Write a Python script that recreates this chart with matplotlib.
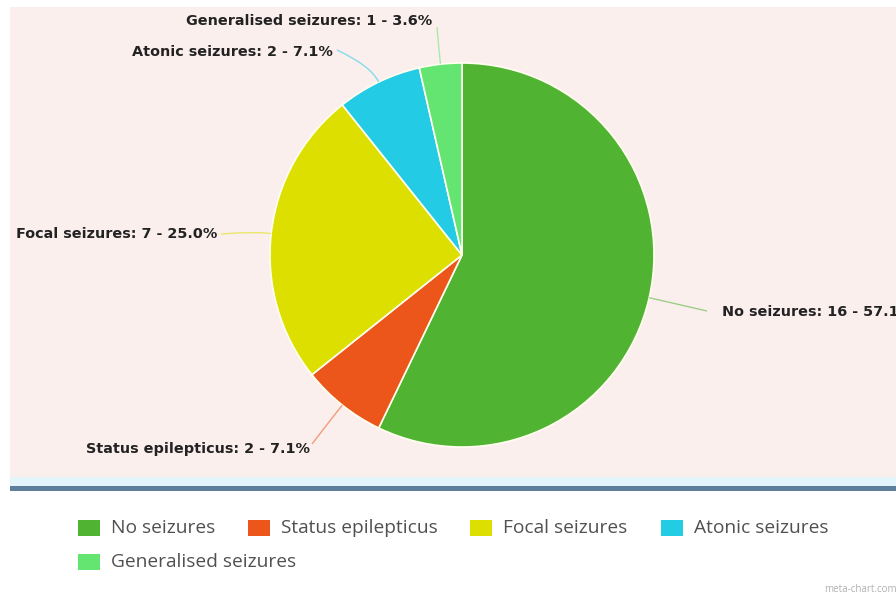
import matplotlib
matplotlib.use("Agg")
import matplotlib.pyplot as plt
from matplotlib.patches import Rectangle, PathPatch
from matplotlib.path import Path
import numpy as np

categories = ["No seizures", "Status epilepticus", "Focal seizures",
              "Atonic seizures", "Generalised seizures"]
counts = [16, 2, 7, 2, 1]
colors = ["#50B432", "#ED561B", "#DDDF00", "#24CBE5", "#64E572"]

W, H = 896, 596


def Y(yp):
    # pixel rows from the top -> data y
    return H - yp


fig = plt.figure(figsize=(W / 100, H / 100), dpi=100)
ax = fig.add_axes([0, 0, 1, 1])

# background panels
ax.add_patch(Rectangle((10, Y(477)), W - 10, 470, facecolor="#fbefee", edgecolor="none", zorder=0))
ax.add_patch(Rectangle((10, Y(486)), W - 10, 9, facecolor="#e3f4fb", edgecolor="none", zorder=0))
ax.add_patch(Rectangle((10, Y(491)), W - 10, 5, facecolor="#5d7f9b", edgecolor="none", zorder=0))

cx, cy, r = 462, Y(255), 192
ax.pie(counts, colors=colors, startangle=90, counterclock=False,
       center=(cx, cy), radius=r,
       wedgeprops=dict(edgecolor="#fffff0", linewidth=1.2))

# data labels with soft connectors
label_pos = {
    "No seizures": (722, 312, "left", (707, 311)),
    "Status epilepticus": (310, 449, "right", (312, 444)),
    "Focal seizures": (217, 234, "right", (221, 234)),
    "Atonic seizures": (333, 52, "right", (337, 50)),
    "Generalised seizures": (432, 21, "right", (437, 27)),
}
total = sum(counts)
cum = 0
for name, n, col in zip(categories, counts, colors):
    mid = np.deg2rad((cum + n / 2) / total * 360)
    cum += n
    ex, ey = cx + r * np.sin(mid), cy + r * np.cos(mid)
    kx, ky = cx + (r + 18) * np.sin(mid), cy + (r + 18) * np.cos(mid)
    tx, ty, ha, (lx, ly) = label_pos[name]
    path = Path([(ex, ey), (kx, ky), (lx, Y(ly))], [Path.MOVETO, Path.CURVE3, Path.CURVE3])
    ax.add_patch(PathPatch(path, facecolor="none", edgecolor=col, lw=1.0, alpha=0.55, zorder=3))
    ax.text(tx, Y(ty), f"{name}: {n} - {n / total * 100:.1f}%", ha=ha, va="center",
            fontsize=10.4, fontweight="bold", color="#222222", family="DejaVu Sans", zorder=4)

# legend
leg_x = [78, 248, 470, 661, 78]
leg_y = [528, 528, 528, 528, 562]
for name, col, lx, ly in zip(categories, colors, leg_x, leg_y):
    ax.add_patch(Rectangle((lx, Y(ly) - 8), 22, 16, facecolor=col, edgecolor="none"))
    ax.text(lx + 33, Y(ly), name, ha="left", va="center", fontsize=13.8,
            color="#505050", family="Open Sans")

ax.text(897, Y(589), "meta-chart.com", ha="right", va="center", fontsize=7,
        color="#b0b0b0", family="Open Sans")

ax.set_xlim(0, W)
ax.set_ylim(0, H)
ax.set_aspect("equal")
ax.axis("off")

fig.savefig("out.png", dpi=100, facecolor="white")
